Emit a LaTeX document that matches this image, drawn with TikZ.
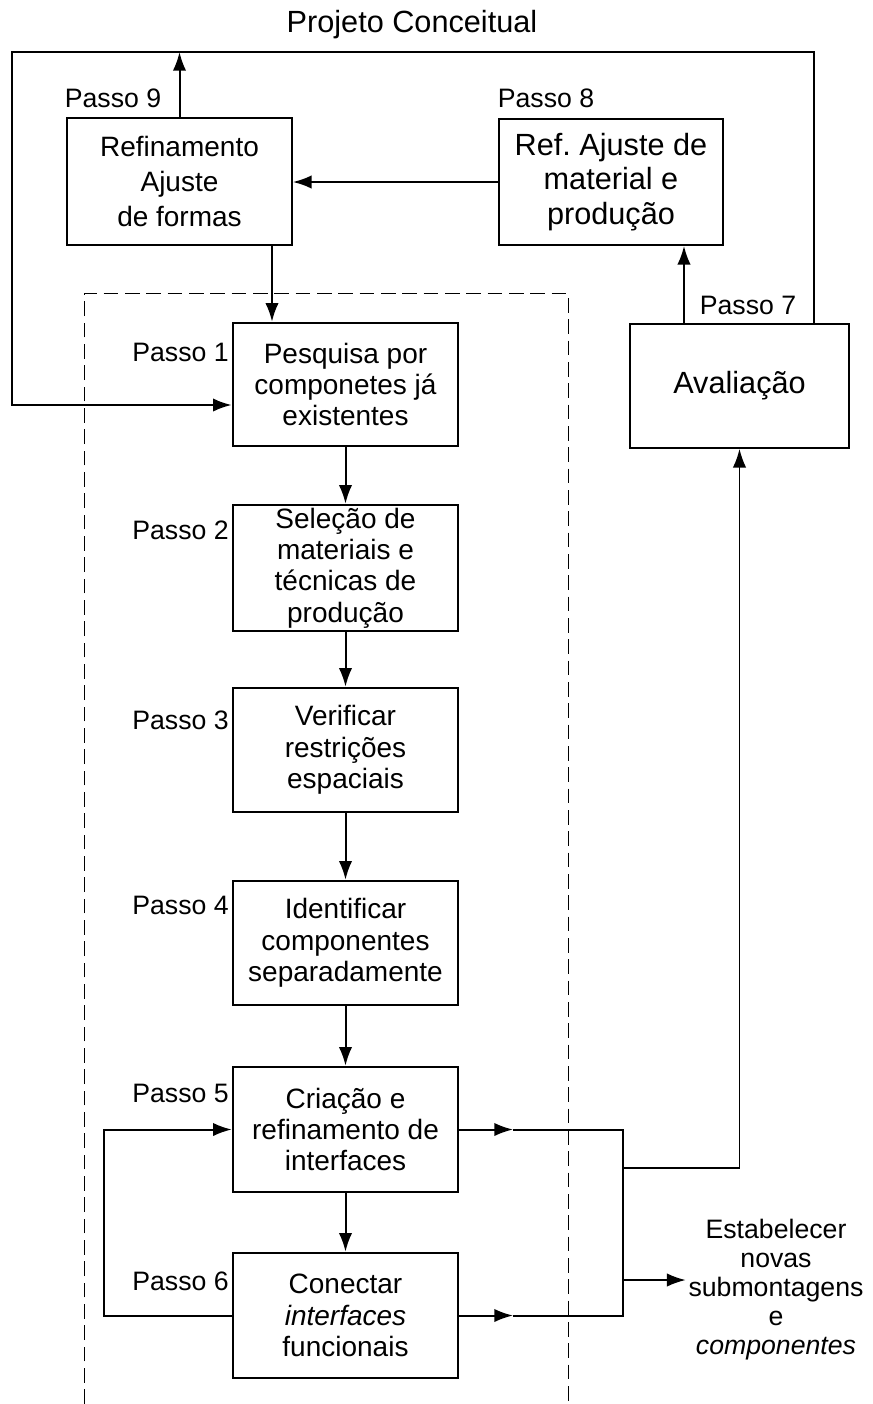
\documentclass[tikz,border=0pt]{standalone}
\usepackage{fontspec}
\setmainfont{Liberation Sans}
\usetikzlibrary{arrows.meta}
\begin{document}
\frenchspacing
\begin{tikzpicture}[x=0.75pt,y=-0.75pt,
  box/.style={draw, line width=1.9pt, align=center, inner sep=0pt,
    minimum width=168.75pt, font=\fontsize{21}{23.5}\selectfont},
  topbox/.style={draw, line width=1.3pt, align=center, inner sep=0pt},
  lbl/.style={inner sep=0pt, font=\fontsize{20}{24}\selectfont},
  tip/.style={-{Latex[length=14pt,width=10pt]}},
  conn/.style={line width=1.5pt, tip},
  wire/.style={line width=1.5pt},
  frame/.style={line width=0.7pt, dash pattern=on 11pt off 5pt}
]
\useasboundingbox (0,0) rectangle (872,1404);

% dashed frame around steps 1 to 6
\draw[frame] (84,1404) -- (84,293) -- (568,293) -- (568,1404);

% title
\node[inner sep=0pt, font=\fontsize{23}{28}\selectfont] (title) at (412,25) {Projeto Conceitual};

% main steps
\node[box, minimum height=92.25pt] (b1) at (345.5,384.5) {Pesquisa por\\componetes já\\existentes};
\node[box, minimum height=94.5pt]  (b2) at (345.5,568) {Seleção de\\materiais e\\técnicas de\\produção};
\node[box, minimum height=93pt]    (b3) at (345.5,750) {Verificar\\restrições\\espaciais};
\node[box, minimum height=93pt]    (b4) at (345.5,943) {Identificar\\componentes\\separadamente};
\node[box, minimum height=93.75pt] (b5) at (345.5,1129.5) {Criação e\\refinamento de\\interfaces};
\node[box, minimum height=93.75pt] (b6) at (345.5,1315.5) {Conectar\\\textit{interfaces}\\funcionais};

% refinement and evaluation steps
\node[topbox, minimum width=168.75pt, minimum height=95.25pt,
      font=\fontsize{21}{26}\selectfont] (b9) at (179.5,181.5) {Refinamento\\Ajuste\\de formas};
\node[topbox, minimum width=168pt, minimum height=94.5pt,
      font=\fontsize{23}{26}\selectfont] (b8) at (611,182) {Ref. Ajuste de\\material e\\produção};
\node[topbox, minimum width=164.25pt, minimum height=93pt,
      font=\fontsize{23}{28}\selectfont] (b7) at (739.5,386) {Avaliação};

% step labels
\node[lbl, anchor=east] (p1) at (229,352)  {Passo 1};
\node[lbl, anchor=east] (p2) at (229,530)  {Passo 2};
\node[lbl, anchor=east] (p3) at (229,720)  {Passo 3};
\node[lbl, anchor=east] (p4) at (229,905)  {Passo 4};
\node[lbl, anchor=east] (p5) at (229,1093) {Passo 5};
\node[lbl, anchor=east] (p6) at (229,1281) {Passo 6};
\node[lbl] (p9) at (113,98)  {Passo 9};
\node[lbl] (p8) at (546,98)  {Passo 8};
\node[lbl] (p7) at (748,305) {Passo 7};

% outcome text
\node[inner sep=2pt, align=center, font=\fontsize{20}{21.75}\selectfont] (out) at (776,1290)
  {Estabelecer\\novas\\submontagens\\e\\\textit{componentes}};

% helper coordinates
\coordinate (tl) at (12,52);
\coordinate (tr) at (814,52);
\coordinate (lb) at (12,405);
\coordinate (d9) at (272,0);
\coordinate (u7) at (684,0);
\coordinate (lx) at (104,0);
\coordinate (mx) at (513,0);
\coordinate (rx) at (623,0);
\coordinate (j1) at (623,1168);
\coordinate (j2) at (623,1280);

% outer loop of the conceptual design
\draw[conn, line width=1.8pt] (b7.north -| tr) -- (tr) -- (tl) -- (lb) -- (b1.west |- lb);
\draw[conn] (b9.north) -- (b9.north |- tl);
\draw[conn] (b8.west) -- (b8.west -| b9.east);
\draw[conn] (b9.south -| d9) -- (b1.north -| d9);
\draw[conn] (b7.north -| u7) -- (b8.south -| u7);

% chain of steps
\draw[conn] (b1.south) -- (b2.north);
\draw[conn] (b2.south) -- (b3.north);
\draw[conn] (b3.south) -- (b4.north);
\draw[conn] (b4.south) -- (b5.north);
\draw[conn] (b5.south) -- (b6.north);

% feedback between steps 5 and 6
\draw[conn] (b6.west) -- (b6.west -| lx) -- (b5.west -| lx) -- (b5.west);

% outputs of steps 5 and 6
\draw[conn] (b5.east) -- (b5.east -| mx);
\draw[conn] (b6.east) -- (b6.east -| mx);
\draw[wire] (b5.east -| mx) -- (b5.east -| rx) -- (b6.east -| rx) -- (b6.east -| mx);
\draw[conn, line width=1.2pt] (j1) -- (j1 -| b7.south) -- (b7.south);
\draw[conn, line width=1.2pt] (j2) -- (out.west |- j2);
\end{tikzpicture}
\end{document}
